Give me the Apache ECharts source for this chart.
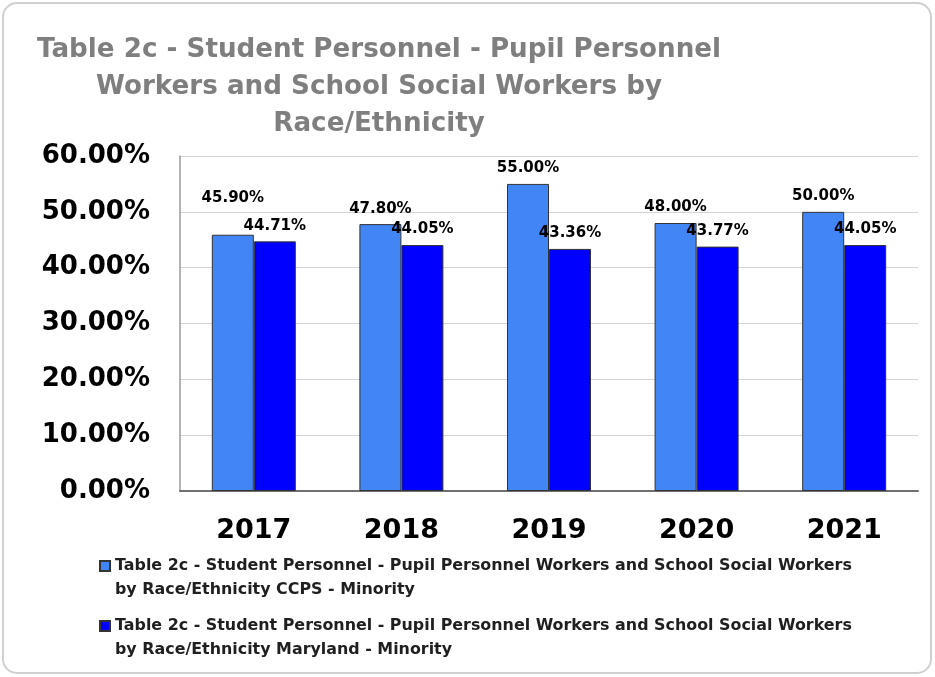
<!DOCTYPE html>
<html>
<head>
<meta charset="utf-8">
<script src="https://cdn.jsdelivr.net/npm/echarts@6/dist/echarts.min.js"></script>
<style>
html,body{margin:0;padding:0;background:#fff;}
#chart{width:935px;height:677px;}
</style>
</head>
<body>
<div id="chart"></div>
<script>
// ---- data ----
var categories = ['2017', '2018', '2019', '2020', '2021'];
var ccpsValues = [45.90, 47.80, 55.00, 48.00, 50.00];
var marylandValues = [44.71, 44.05, 43.36, 43.77, 44.05];
var yTicks = [0, 10, 20, 30, 40, 50, 60];
var titleText = 'Table 2c - Student Personnel - Pupil Personnel\nWorkers and School Social Workers by\nRace/Ethnicity';
var seriesNames = [
  'Table 2c - Student Personnel - Pupil Personnel Workers and School Social Workers by Race/Ethnicity CCPS - Minority',
  'Table 2c - Student Personnel - Pupil Personnel Workers and School Social Workers by Race/Ethnicity Maryland - Minority'
];
var legendLines = [
  ['Table 2c - Student Personnel - Pupil Personnel Workers and School Social Workers', 'by Race/Ethnicity CCPS - Minority'],
  ['Table 2c - Student Personnel - Pupil Personnel Workers and School Social Workers', 'by Race/Ethnicity Maryland - Minority']
];

var FONT = '"DejaVu Sans", sans-serif';
var chart = echarts.init(document.getElementById('chart'), null, {renderer: 'canvas'});

function pct(v) { return v.toFixed(2) + '%'; }

var ccpsData = ccpsValues.map(function (v, i) {
  var item = {value: v};
  if (i === 0) item.label = {offset: [0, -21]};
  return item;
});

var labelStyle = {
  show: true,
  position: 'top',
  distance: 8,
  fontFamily: FONT,
  fontWeight: 'bold',
  fontSize: 15,
  color: '#000',
  formatter: function (p) { return pct(p.value); }
};

var option = {
  backgroundColor: '#fff',
  animation: false,
  graphic: [{
    type: 'rect',
    shape: {x: 3, y: 3, width: 928, height: 670, r: 14},
    style: {fill: 'none', stroke: '#d0d0d0', lineWidth: 2},
    silent: true,
    z: -10
  }],
  title: {
    text: titleText,
    left: 379,
    top: 32,
    padding: 0,
    textAlign: 'center',
    textStyle: {
      fontFamily: FONT,
      fontWeight: 'bold',
      fontSize: 26.2,
      lineHeight: 37,
      color: '#7f7f7f'
    }
  },
  legend: {
    orient: 'vertical',
    left: 99,
    top: 530,
    padding: 0,
    itemGap: -12,
    itemWidth: 10,
    itemHeight: 10,
    icon: 'rect',
    data: seriesNames,
    formatter: function (name) {
      var idx = seriesNames.indexOf(name);
      return '\n' + legendLines[idx][0] + '\n' + legendLines[idx][1];
    },
    textStyle: {
      fontFamily: FONT,
      fontWeight: 'bold',
      fontSize: 15.9,
      lineHeight: 24,
      color: '#1f1f1f'
    }
  },
  grid: {left: 180, right: 17, top: 156, bottom: 186, containLabel: false},
  xAxis: {
    type: 'category',
    data: categories,
    axisLine: {show: true, lineStyle: {color: '#707070', width: 2}},
    axisTick: {show: false},
    axisLabel: {
      margin: 26,
      fontFamily: FONT,
      fontWeight: 'bold',
      fontSize: 27,
      lineHeight: 27,
      color: '#000'
    }
  },
  yAxis: {
    type: 'value',
    min: yTicks[0],
    max: yTicks[yTicks.length - 1],
    interval: 10,
    axisLine: {show: true, lineStyle: {color: '#9a9a9a', width: 1.5}},
    axisTick: {show: false},
    splitLine: {show: true, lineStyle: {color: '#d4d4d4', width: 1}},
    axisLabel: {
      margin: 30,
      fontFamily: FONT,
      fontWeight: 'bold',
      fontSize: 26,
      color: '#000',
      formatter: function (v) { return pct(v); }
    }
  },
  series: [
    {
      name: seriesNames[0],
      type: 'bar',
      data: ccpsData,
      barWidth: 42,
      barGap: '0%',
      itemStyle: {color: '#4285f4', borderColor: '#333', borderWidth: 1},
      label: labelStyle
    },
    {
      name: seriesNames[1],
      type: 'bar',
      data: marylandValues,
      barWidth: 42,
      barGap: '0%',
      itemStyle: {color: '#0000ff', borderColor: '#333', borderWidth: 1},
      label: labelStyle
    }
  ]
};
chart.setOption(option);
</script>
</body>
</html>
